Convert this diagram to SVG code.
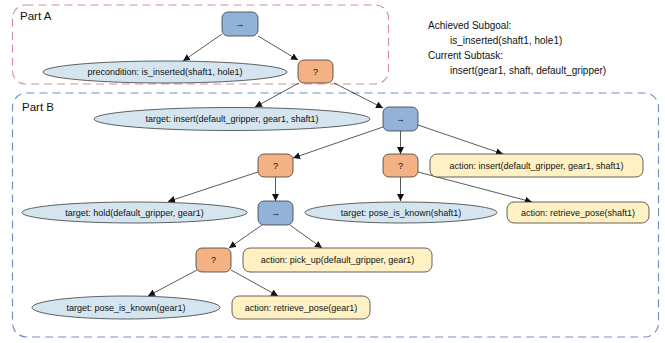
<svg xmlns="http://www.w3.org/2000/svg" width="665" height="343" viewBox="0 0 665 343">
<defs>
<marker id="ah" markerUnits="userSpaceOnUse" markerWidth="8" markerHeight="7" refX="7" refY="3.5" orient="auto">
<path d="M0,0 L7,3.5 L0,7 z" fill="#111"/>
</marker>
<style>
text{font-family:"Liberation Sans",Arial,sans-serif;fill:#111;}
.lbl{font-size:9px;text-anchor:middle;}
.seq{fill:#93B2D8;stroke:#3a3a3a;stroke-width:0.8;}
.fb{fill:#F4B183;stroke:#3a3a3a;stroke-width:0.8;}
.tg{fill:#D5E5EF;stroke:#3a3a3a;stroke-width:0.8;}
.ac{fill:#FFF1C4;stroke:#3a3a3a;stroke-width:0.8;}
.e{stroke:#222;stroke-width:0.75;fill:none;marker-end:url(#ah);}
.part{font-size:11.5px;}
.info{font-size:10px;}
</style>
</defs>
<rect width="665" height="343" fill="#fff"/>
<g id="partA">
<rect x="12.5" y="5" width="376" height="79" rx="13" fill="none" stroke="#D6909F" stroke-width="1.2" stroke-dasharray="8,5"/>
<text class="part" x="20" y="20">Part A</text>
</g>
<g id="partB">
<rect x="12.5" y="93" width="646" height="244" rx="14" fill="none" stroke="#7391C6" stroke-width="1.2" stroke-dasharray="8,5"/>
<text class="part" x="22" y="111">Part B</text>
</g>
<g id="info">
<text class="info" x="428" y="28.5">Achieved Subgoal:</text>
<text class="info" x="450" y="44">is_inserted(shaft1, hole1)</text>
<text class="info" x="428" y="58.5">Current Subtask:</text>
<text class="info" x="450" y="73.5">insert(gear1, shaft, default_gripper)</text>
</g>
<g id="connectors">
<line class="e" x1="222" y1="34" x2="183" y2="61"/>
<line class="e" x1="258" y1="36" x2="298" y2="60"/>
<line class="e" x1="299" y1="83" x2="255" y2="107"/>
<line class="e" x1="334" y1="83" x2="383" y2="108"/>
<line class="e" x1="383" y1="127" x2="293" y2="158"/>
<line class="e" x1="400.5" y1="131" x2="400.5" y2="154"/>
<line class="e" x1="418" y1="125" x2="503" y2="154"/>
<line class="e" x1="400.5" y1="177" x2="400.5" y2="201"/>
<line class="e" x1="418" y1="172" x2="532" y2="202"/>
<line class="e" x1="275.5" y1="177" x2="275.5" y2="201"/>
<line class="e" x1="258" y1="172" x2="168" y2="201.5"/>
<line class="e" x1="262" y1="225" x2="229" y2="248"/>
<line class="e" x1="290" y1="225" x2="322" y2="248"/>
<line class="e" x1="197" y1="270" x2="148" y2="296"/>
<line class="e" x1="231" y1="270" x2="278" y2="296"/>
</g>
<g id="seq1"><rect class="seq" x="222" y="12" width="36" height="24" rx="6"/><text class="lbl" x="240" y="27">→</text></g>
<g id="precondition"><ellipse class="tg" cx="165" cy="72" rx="122" ry="11"/><text class="lbl" x="165" y="75">precondition: is_inserted(shaft1, hole1)</text></g>
<g id="fb1"><rect class="fb" x="298" y="60" width="35" height="23" rx="6"/><text class="lbl" x="315.5" y="74.5">?</text></g>
<g id="target_insert"><ellipse class="tg" cx="232" cy="119" rx="138" ry="11.5"/><text class="lbl" x="232" y="122">target: insert(default_gripper, gear1, shaft1)</text></g>
<g id="seq2"><rect class="seq" x="383" y="107" width="35" height="24" rx="6"/><text class="lbl" x="400.5" y="122">→</text></g>
<g id="fb2"><rect class="fb" x="258" y="154" width="35" height="23" rx="6"/><text class="lbl" x="275.5" y="168.5">?</text></g>
<g id="fb3"><rect class="fb" x="383" y="154" width="35" height="23" rx="6"/><text class="lbl" x="400.5" y="168.5">?</text></g>
<g id="action_insert"><rect class="ac" x="430" y="154" width="213" height="23" rx="7"/><text class="lbl" x="536.5" y="168.5">action: insert(default_gripper, gear1, shaft1)</text></g>
<g id="target_hold"><ellipse class="tg" cx="134.5" cy="212.5" rx="112.5" ry="10.5"/><text class="lbl" x="134.5" y="215.5">target: hold(default_gripper, gear1)</text></g>
<g id="seq3"><rect class="seq" x="258" y="201" width="35" height="24" rx="6"/><text class="lbl" x="275.5" y="216">→</text></g>
<g id="target_pose_shaft"><ellipse class="tg" cx="401" cy="212.5" rx="96" ry="10.5"/><text class="lbl" x="401" y="215.5">target: pose_is_known(shaft1)</text></g>
<g id="action_retrieve_shaft"><rect class="ac" x="507" y="202" width="142" height="21" rx="7"/><text class="lbl" x="578" y="215.5">action: retrieve_pose(shaft1)</text></g>
<g id="fb4"><rect class="fb" x="196" y="248" width="35" height="24" rx="6"/><text class="lbl" x="213.5" y="263">?</text></g>
<g id="action_pickup"><rect class="ac" x="243" y="248" width="189" height="24" rx="7"/><text class="lbl" x="337.5" y="263">action: pick_up(default_gripper, gear1)</text></g>
<g id="target_pose_gear"><ellipse class="tg" cx="126" cy="307.5" rx="94" ry="11.5"/><text class="lbl" x="126" y="310.5">target: pose_is_known(gear1)</text></g>
<g id="action_retrieve_gear"><rect class="ac" x="232" y="296" width="138" height="23" rx="7"/><text class="lbl" x="301" y="310.5">action: retrieve_pose(gear1)</text></g>
</svg>
